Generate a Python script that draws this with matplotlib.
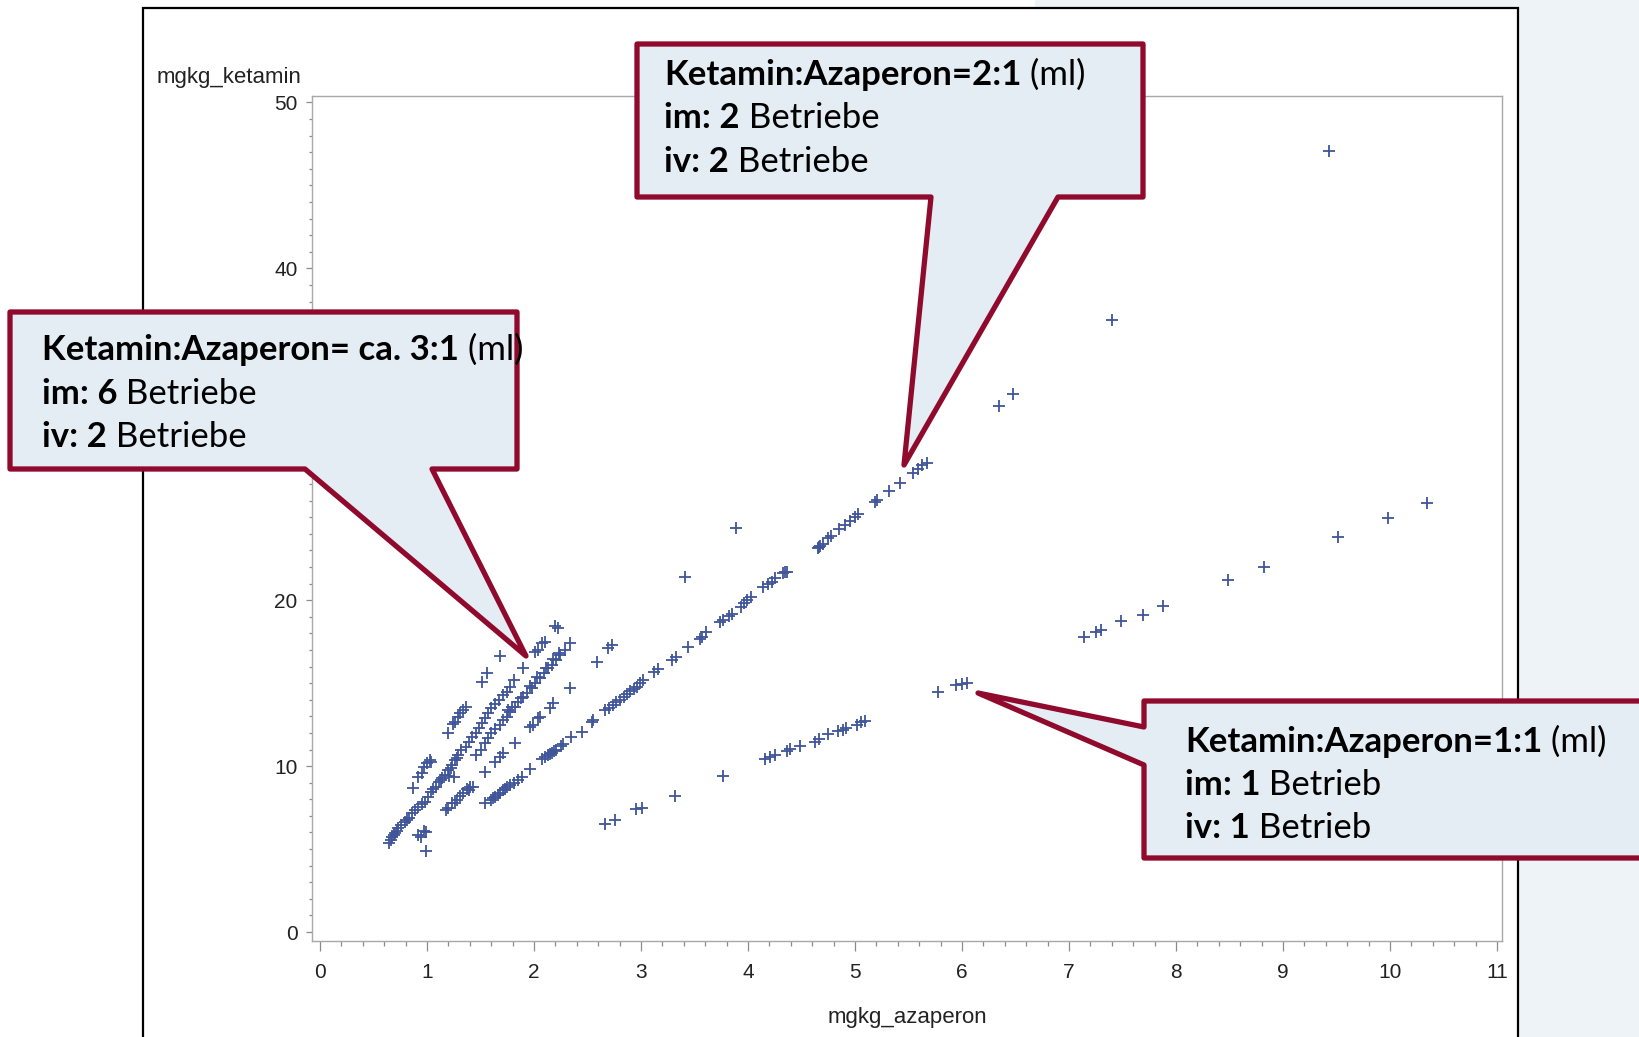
import matplotlib
matplotlib.use("Agg")
import matplotlib.pyplot as plt
from matplotlib.patches import Polygon, Rectangle
from matplotlib.ticker import MultipleLocator

# dose pairs (mg/kg azaperon, mg/kg ketamin), grouped by mixing ratio
aza_r10 = [0.87, 0.92, 0.95, 0.97, 1.00, 1.03, 1.04, 1.20, 1.24, 1.26, 1.29, 1.31, 1.34, 1.36, 1.51, 1.56, 1.68]
ket_r10 = [8.66, 9.36, 9.56, 9.96, 10.17, 10.37, 10.27, 11.97, 12.54, 12.68, 12.98, 13.22, 13.38, 13.58, 15.09, 15.63, 16.64]

aza_r8 = [0.64, 0.66, 0.67, 0.69, 0.70, 0.72, 0.73, 0.76, 0.79, 0.81, 0.83, 0.86, 0.89, 0.92, 0.95, 0.98,
          1.01, 1.04, 1.06, 1.08, 1.11, 1.13, 1.14, 1.17, 1.20, 1.22, 1.23, 1.26, 1.28, 1.29, 1.32, 1.36,
          1.39, 1.42, 1.46, 1.49, 1.51, 1.54, 1.57, 1.60, 1.64, 1.67, 1.71, 1.75, 1.78, 1.81, 1.90, 2.01,
          2.04, 2.07, 2.10, 2.20, 2.22]
ket_r8 = [5.35, 5.55, 5.74, 5.85, 5.95, 6.10, 6.25, 6.45, 6.65, 6.75, 6.85, 7.15, 7.35, 7.55, 7.70, 7.85,
          8.16, 8.46, 8.60, 8.76, 9.06, 9.15, 9.26, 9.46, 9.76, 9.90, 10.07, 10.37, 10.50, 10.67, 10.97, 11.17,
          11.47, 11.77, 11.97, 12.30, 12.60, 12.90, 13.18, 13.48, 13.74, 13.98, 14.29, 14.49, 14.79, 15.19, 15.89, 16.90,
          17.00, 17.40, 17.50, 18.45, 18.35]

aza_r7 = [1.21, 1.25, 1.46, 1.50, 1.54, 1.57, 1.60, 1.64, 1.68, 1.71, 1.75, 1.76, 1.78, 1.79, 1.82, 1.85,
          1.88, 1.90, 1.93, 1.96, 1.98, 2.01, 2.03, 2.06, 2.09, 2.11, 2.13, 2.17, 2.18, 2.21, 2.23, 2.24,
          2.29, 2.34]
ket_r7 = [9.40, 9.36, 10.67, 10.97, 11.37, 11.67, 11.97, 12.22, 12.48, 12.78, 12.98, 13.38, 13.28, 13.54, 13.58, 13.88,
          14.12, 14.18, 14.39, 14.83, 14.69, 14.99, 15.35, 15.29, 15.59, 15.93, 15.89, 16.09, 16.44, 16.40, 16.80, 16.70,
          17.00, 17.44]

aza_r6 = [0.92, 0.94, 0.97, 0.99, 0.99, 1.18, 1.20, 1.23, 1.26, 1.28, 1.31, 1.34, 1.37, 1.39, 1.40, 1.43,
          1.54, 1.64, 1.68, 1.71, 1.82, 1.96, 1.99, 2.04, 2.06, 2.15, 2.18, 2.34]
ket_r6 = [5.87, 5.70, 6.12, 6.00, 4.90, 7.35, 7.46, 7.75, 7.80, 7.96, 8.20, 8.40, 8.60, 8.56, 8.76, 8.76,
          9.66, 10.27, 10.57, 10.77, 11.37, 12.37, 12.50, 12.88, 12.98, 13.48, 13.78, 14.69]

aza_r5 = [1.54, 1.60, 1.62, 1.64, 1.66, 1.68, 1.71, 1.73, 1.75, 1.78, 1.81, 1.85, 1.89, 1.96, 2.07, 2.10,
          2.13, 2.15, 2.17, 2.19, 2.21, 2.25, 2.27, 2.35, 2.45, 2.54, 2.55, 2.66, 2.70, 2.74, 2.77, 2.80,
          2.84, 2.87, 2.90, 2.93, 2.96, 2.99, 3.02, 3.12, 3.16, 3.29, 3.33, 3.44, 3.55, 3.57, 3.61, 3.74,
          3.77, 3.82, 3.85, 3.93, 3.96, 3.99, 4.03, 4.14, 4.19, 4.22, 4.25, 4.33, 4.35, 4.36, 4.65, 4.66,
          4.67, 4.70, 4.75, 4.78, 4.85, 4.91, 4.95, 5.00, 5.03, 5.19, 5.21, 5.32, 5.42, 5.54, 5.59, 5.63,
          5.67]
ket_r5 = [7.76, 7.96, 8.05, 8.16, 8.25, 8.36, 8.56, 8.65, 8.72, 8.86, 8.96, 9.16, 9.36, 9.81, 10.41, 10.57,
          10.67, 10.75, 10.81, 10.90, 10.97, 11.21, 11.33, 11.77, 12.07, 12.68, 12.78, 13.38, 13.48, 13.68, 13.85, 13.98,
          14.18, 14.35, 14.55, 14.63, 14.79, 14.99, 15.19, 15.65, 15.83, 16.40, 16.60, 17.20, 17.66, 17.80, 18.10, 18.71,
          18.81, 19.05, 19.17, 19.61, 19.85, 20.01, 20.21, 20.78, 20.98, 21.12, 21.32, 21.62, 21.70, 21.72, 23.13, 23.20,
          23.27, 23.40, 23.73, 23.87, 24.27, 24.53, 24.77, 25.00, 25.20, 25.94, 26.04, 26.60, 27.08, 27.65, 27.89, 28.13,
          28.29]

aza_r25 = [2.66, 2.76, 2.95, 3.01, 3.32, 3.77, 4.16, 4.21, 4.25, 4.36, 4.39, 4.49, 4.63, 4.66, 4.75, 4.84,
           4.89, 4.92, 5.02, 5.06, 5.09, 5.78, 5.94, 6.00, 6.05, 7.14, 7.25, 7.30, 7.49, 7.69, 7.88, 8.49,
           8.82, 9.51, 9.98, 10.35]
ket_r25 = [6.50, 6.75, 7.39, 7.45, 8.21, 9.40, 10.43, 10.57, 10.67, 10.91, 11.01, 11.21, 11.47, 11.61, 11.92, 12.12,
           12.18, 12.28, 12.48, 12.64, 12.72, 14.46, 14.90, 14.96, 15.03, 17.80, 18.06, 18.18, 18.75, 19.13, 19.63, 21.21,
           22.03, 23.80, 24.94, 25.88]

aza_other = [2.59, 2.69, 2.73, 3.41, 3.89, 6.35, 6.48, 7.40, 9.43]
ket_other = [16.30, 17.10, 17.30, 21.42, 24.33, 31.70, 32.40, 36.90, 47.10]

aza = aza_r10 + aza_r8 + aza_r7 + aza_r6 + aza_r5 + aza_r25 + aza_other
ket = ket_r10 + ket_r8 + ket_r7 + ket_r6 + ket_r5 + ket_r25 + ket_other

# callout texts: list of lines, each line a list of (text, weight)
note_21 = [[("Ketamin:Azaperon=2:1", "bold"), (" (ml)", "normal")],
           [("im: 2", "bold"), (" Betriebe", "normal")],
           [("iv: 2", "bold"), (" Betriebe", "normal")]]
note_31 = [[("Ketamin:Azaperon= ca. 3:1", "bold"), (" (ml)", "normal")],
           [("im: 6", "bold"), (" Betriebe", "normal")],
           [("iv: 2", "bold"), (" Betriebe", "normal")]]
note_11 = [[("Ketamin:Azaperon=1:1", "bold"), (" (ml)", "normal")],
           [("im: 1", "bold"), (" Betrieb", "normal")],
           [("iv: 1", "bold"), (" Betrieb", "normal")]]

W, H = 1640, 1037
PANEL = "#EEF3F7"
FILL = "#E4EDF3"
BORDER = "#8F0A2C"
BLUE = "#40559A"

fig = plt.figure(figsize=(W / 100, H / 100), dpi=100)
fig.patch.set_facecolor("white")

# slide background + white chart card with black border
bg = fig.add_axes([0, 0, 1, 1], zorder=0)
bg.set_xlim(0, W)
bg.set_ylim(H, 0)
bg.axis("off")
bg.add_patch(Rectangle((1035, 0), W - 1035, H, facecolor=PANEL, edgecolor="none"))
bg.add_patch(Rectangle((143, 7.5), 1375, 1100, facecolor="white", edgecolor="black", lw=1.6))

# scatter plot
ax = fig.add_axes([312 / W, 1 - 941 / H, 1190 / W, 845 / H], zorder=1)
ax.plot(aza, ket, linestyle="none", marker="+", ms=9, mew=1.3, color=BLUE)
ax.set_xlim(-0.075, 11.047)
ax.set_ylim(-0.54, 50.39)
ax.xaxis.set_major_locator(MultipleLocator(1))
ax.xaxis.set_minor_locator(MultipleLocator(0.2))
ax.yaxis.set_major_locator(MultipleLocator(10))
ax.yaxis.set_minor_locator(MultipleLocator(1))
for s in ax.spines.values():
    s.set_color("#A8A8A8")
    s.set_linewidth(1.0)
ax.tick_params(axis="x", which="major", length=7.5, width=0.9, color="#8C8C8C", pad=8,
               labelsize=15, labelcolor="#222222")
ax.tick_params(axis="x", which="minor", length=3.8, width=0.9, color="#8C8C8C")
ax.tick_params(axis="y", which="major", length=4.3, width=0.9, color="#8C8C8C", pad=6,
               labelsize=15, labelcolor="#222222")
ax.tick_params(axis="y", which="minor", length=2.2, width=0.9, color="#8C8C8C")
for lab in ax.get_xticklabels() + ax.get_yticklabels():
    lab.set_family("Liberation Sans")

fig.text(907 / W, 1 - 1017 / H, "mgkg_azaperon", ha="center", va="center",
         fontsize=16, family="Liberation Sans", color="#222222")
fig.text(301 / W, 1 - 78 / H, "mgkg_ketamin", ha="right", va="center",
         fontsize=16, family="Liberation Sans", color="#222222")

# callouts on top
ov = fig.add_axes([0, 0, 1, 1], zorder=3)
ov.set_xlim(0, W)
ov.set_ylim(H, 0)
ov.axis("off")
ov.patch.set_alpha(0)

shapes = [
    [(637, 44), (1143, 44), (1143, 197), (1058, 197), (904, 465), (931, 197), (637, 197)],
    [(10, 312), (517, 312), (517, 469), (432, 469), (526, 656), (305, 469), (10, 469)],
    [(1144, 701), (1670, 701), (1670, 858), (1144, 858), (1144, 765), (978, 693), (1144, 727)],
]
for pts in shapes:
    ov.add_patch(Polygon(pts, closed=True, facecolor=FILL, edgecolor=BORDER, lw=3.8,
                         joinstyle="round"))

renderer = fig.canvas.get_renderer()


def rich_line(x, y, parts, size=25):
    for txt, weight in parts:
        t = ov.text(x, y, txt, fontsize=size, fontweight=weight, family="Lato",
                    ha="left", va="center", color="black", zorder=5)
        x += t.get_window_extent(renderer).width


for note, x0, ys in [(note_21, 664, [75, 118, 162]),
                     (note_31, 42, [350, 394, 437]),
                     (note_11, 1185, [742, 785, 828])]:
    for line, y in zip(note, ys):
        rich_line(x0, y, line)

fig.savefig("out.png", dpi=100)
